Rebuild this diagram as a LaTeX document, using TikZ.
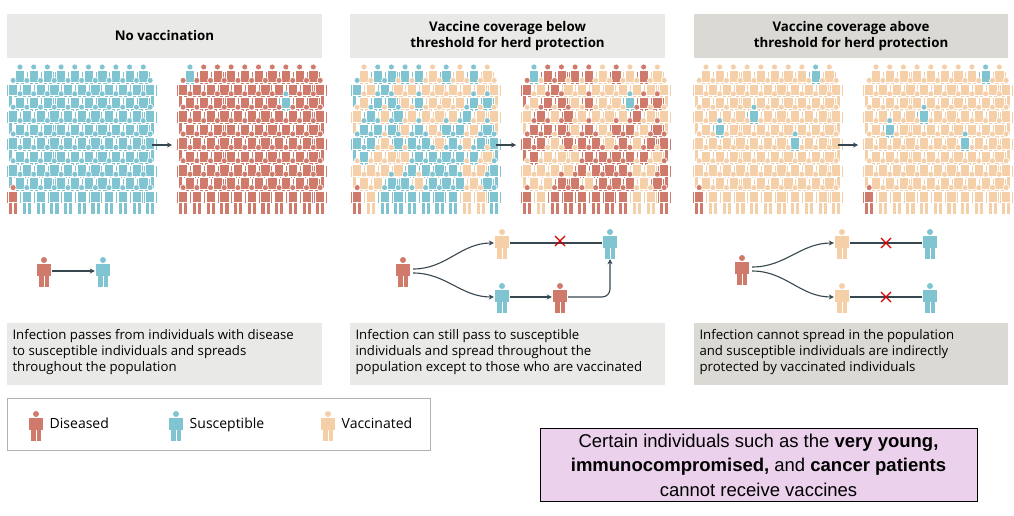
\documentclass[tikz,border=0pt]{standalone}
\usepackage{fontspec}
\setmainfont{Open Sans}
\newfontfamily\boxfont{Liberation Sans}
\usetikzlibrary{positioning,arrows.meta}
\definecolor{dis}{HTML}{D07A6C}
\definecolor{sus}{HTML}{80C4D2}
\definecolor{vac}{HTML}{F5CFA8}
\definecolor{headA}{HTML}{E9E9E7}
\definecolor{headB}{HTML}{DAD9D4}
\definecolor{note}{HTML}{EBD1EC}
\definecolor{arr}{HTML}{37474F}
\tikzset{
  outline/.style={},
  person/.pic={
    \path[fill,outline] (0,-11) circle (3);
    \path[fill,outline] (-4.6,-7.5) rectangle (4.6,4.5);
    \path[fill,outline] (-7.2,-7) rectangle (-5.3,5);
    \path[fill,outline] (5.3,-7) rectangle (7.2,5);
    \path[fill,outline] (-4.6,4) rectangle (-0.5,16);
    \path[fill,outline] (0.5,4) rectangle (4.6,16);
  },
  crowd/.style={outline/.style={draw=white,line width=0.6pt}},
  icon/.style={minimum width=16,minimum height=32,inner sep=0pt},
  flow/.style={draw=arr,line width=1.1pt,-{Stealth[length=5pt,width=5pt]}},
  title/.style={font=\bfseries\fontsize{13.3}{16}\selectfont,align=center},
  caption/.style={font=\fontsize{13.2}{16}\selectfont,align=left,anchor=north west},
  legend/.style={font=\fontsize{14}{16}\selectfont,text height=10,text depth=3},
  cross/.style={draw=red!85!black,line width=1.2pt},
}
% one crowd: x of first head, mode
\newcommand\crowd[2]{%
  \pgfmathsetseed{7}
  \foreach \r in {0,...,9}{
    \pgfmathtruncatemacro\odd{mod(\r,2)}
    \pgfmathtruncatemacro\last{9+\odd}
    \foreach \c in {0,...,\last}{
      \pgfmathrandominteger\k{1}{100}
      \pgfmathsetmacro\xx{#1+\c*13.7-\odd*6.85}
      \pgfmathsetmacro\yy{78+\r*13.4}
      \def\col{sus}
      \ifcase#2\or
        \ifnum\r=9 \ifnum\c=0 \def\col{dis}\fi\fi
      \or
        \def\col{dis}
        \ifnum\r=0 \ifnum\c=0 \def\col{sus}\fi\fi
        \ifnum\r=2 \ifnum\c=7 \def\col{sus}\fi\fi
      \or
        \ifnum\k<50 \def\col{vac}\fi
        \ifnum\r=9 \ifnum\c=0 \def\col{dis}\fi\fi
      \or
        \ifnum\k<50 \def\col{vac}\else\def\col{dis}\fi
        \ifnum\r=0 \ifnum\c=0 \def\col{sus}\fi\fi
        \ifnum\r=2 \ifnum\c=7 \def\col{sus}\fi\fi
      \or
        \def\col{vac}
        \ifnum\r=9 \ifnum\c=0 \def\col{dis}\fi\fi
        \ifnum\r=0 \ifnum\c=8 \def\col{sus}\fi\fi
        \ifnum\r=3 \ifnum\c=4 \def\col{sus}\fi\fi
        \ifnum\r=4 \ifnum\c=1 \def\col{sus}\fi\fi
        \ifnum\r=5 \ifnum\c=7 \def\col{sus}\fi\fi
      \fi
      \pic[crowd,fill=\col] at (\xx,\yy) {person};
    }
  }
}
\begin{document}
\begin{tikzpicture}[x=1pt,y=-1pt]
\useasboundingbox (0,0) rectangle (1014,516);
% headers
\fill[headA] (7,14) rectangle (322,58);
\fill[headA] (350,14) rectangle (665,58);
\fill[headB] (694,14) rectangle (1008,58);
\node[title] (t1) at (164.5,36) {No vaccination};
\node[title] (t2) at (507.5,36) {Vaccine coverage below\\threshold for herd protection};
\node[title] (t3) at (851,36) {Vaccine coverage above\\threshold for herd protection};
% crowds
\crowd{20}{1}
\crowd{190}{2}
\crowd{364}{3}
\crowd{534}{4}
\crowd{706}{5}
\crowd{876}{5}
\node (g1) at (152,145) {}; \node (h1) at (172,145) {};
\node (g2) at (496,145) {}; \node (h2) at (516,145) {};
\node (g3) at (838,145) {}; \node (h3) at (858,145) {};
\foreach \i in {1,2,3} \draw[flow] (g\i.center) -- (h\i.center);
% transmission, panel 1
\node[icon] (d1) at (44,271) {}; \pic[fill=dis] at (d1) {person};
\node[icon] (s1) at (103,271) {}; \pic[fill=sus] at (s1) {person};
\draw[flow] (d1.east) -- (s1.west);
% panel 2
\node[icon] (d2) at (403,271) {}; \pic[fill=dis] at (d2) {person};
\node[icon] (v2) at (502,243) {}; \pic[fill=vac] at (v2) {person};
\node[icon] (s2) at (610,243) {}; \pic[fill=sus] at (s2) {person};
\node[icon] (u2) at (502,297) {}; \pic[fill=sus] at (u2) {person};
\node[icon] (e2) at (560,297) {}; \pic[fill=dis] at (e2) {person};
\draw[flow] (d2.east) ++(2,-2) coordinate (b2) to[out=0,in=180] (v2.west);
\draw[flow] (b2) ++(0,4) to[out=0,in=180] (u2.west);
\draw[arr,line width=1.1pt] (v2.east) -- (s2.west);
\coordinate (x2) at (560,241);
\draw[cross] (x2) ++(-5,-5) -- ++(10,10) (x2) ++(-5,5) -- ++(10,-10);
\draw[flow] (u2.east) -- (e2.west);
\draw[flow,rounded corners=8pt] (e2.east) -| (s2.south);
% panel 3
\node[icon] (d3) at (742,269) {}; \pic[fill=dis] at (d3) {person};
\node[icon] (v3) at (842,243) {}; \pic[fill=vac] at (v3) {person};
\node[icon] (w3) at (842,297) {}; \pic[fill=vac] at (w3) {person};
\node[icon] (s3) at (930,243) {}; \pic[fill=sus] at (s3) {person};
\node[icon] (r3) at (930,297) {}; \pic[fill=sus] at (r3) {person};
\draw[flow] (d3.east) ++(2,-2) coordinate (b3) to[out=0,in=180] (v3.west);
\draw[flow] (b3) ++(0,4) to[out=0,in=180] (w3.west);
\draw[arr,line width=1.1pt] (v3.east) -- (s3.west);
\draw[arr,line width=1.1pt] (w3.east) -- (r3.west);
\foreach \y in {243,297}
  \draw[cross] (886,\y) ++(-5,-5) -- ++(10,10) (886,\y) ++(-5,5) -- ++(10,-10);
% captions
\fill[headA] (7,323) rectangle (322,385);
\fill[headA] (350,323) rectangle (665,385);
\fill[headB] (694,323) rectangle (1008,385);
\node[caption] (c1) at (9,326) {Infection passes from individuals with disease\\to susceptible individuals and spreads\\throughout the population};
\node[caption] (c2) at (352,326) {Infection can still pass to susceptible\\individuals and spread throughout the\\population except to those who are vaccinated};
\node[caption] (c3) at (696,326) {Infection cannot spread in the population\\and susceptible individuals are indirectly\\protected by vaccinated individuals};
% legend
\draw[gray!60,line width=0.8pt] (7,398) rectangle (430,450);
\node[icon] (l1) at (36,425) {}; \pic[fill=dis] at (l1) {person};
\node[icon] (l2) at (176,425) {}; \pic[fill=sus] at (l2) {person};
\node[icon] (l3) at (328,425) {}; \pic[fill=vac] at (l3) {person};
\node[legend,right=2pt of l1] {Diseased};
\node[legend,right=2pt of l2] {Susceptible};
\node[legend,right=2pt of l3] {Vaccinated};
% note
\node[draw=black,line width=1pt,fill=note,minimum width=437,minimum height=73,align=center,
  font=\boxfont\fontsize{18.5}{24.5}\selectfont] (n) at (758.5,465)
  {Certain individuals such as the \textbf{very young,}\\\textbf{immunocompromised,} and \textbf{cancer patients}\\cannot receive vaccines};
\end{tikzpicture}
\end{document}
